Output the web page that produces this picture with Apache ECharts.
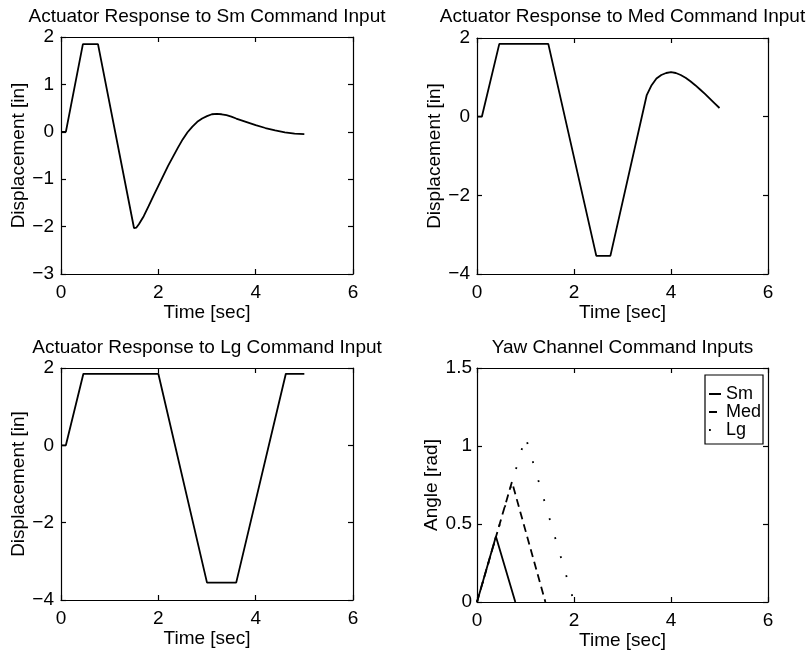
<!DOCTYPE html>
<html>
<head>
<meta charset="utf-8">
<script src="https://cdn.jsdelivr.net/npm/echarts@6/dist/echarts.min.js"></script>
<style>html,body{margin:0;padding:0;background:#fff}#c{width:810px;height:655px}</style>
</head>
<body>
<div id="c"></div>
<script>
// ---- Data ----
const titles = [
  'Actuator Response to Sm Command Input',
  'Actuator Response to Med Command Input',
  'Actuator Response to Lg Command Input',
  'Yaw Channel Command Inputs'
];
const xTicks = [0, 2, 4, 6];
const yTicksSm = [-3, -2, -1, 0, 1, 2];
const yTicksMed = [-4, -2, 0, 2];
const yTicksLg = [-4, -2, 0, 2];
const yTicksYaw = [0, 0.5, 1, 1.5];

const smResponse = [[0,0],[0.1,0],[0.45,1.85],[0.76,1.85],[1.5,-2.03],[1.55,-2.02],[1.6,-1.95],[1.7,-1.78],[1.8,-1.57],[1.9,-1.35],[2.0,-1.14],[2.1,-0.93],[2.2,-0.72],[2.3,-0.53],[2.4,-0.34],[2.5,-0.16],[2.6,-0.01],[2.7,0.11],[2.8,0.21],[2.9,0.28],[3.0,0.33],[3.1,0.37],[3.2,0.38],[3.3,0.37],[3.4,0.35],[3.5,0.32],[3.6,0.28],[3.8,0.21],[4.0,0.14],[4.2,0.08],[4.4,0.03],[4.6,-0.01],[4.8,-0.04],[5.0,-0.05]];
const medResponse = [[0,0],[0.1,0],[0.46,1.85],[1.47,1.85],[2.46,-3.54],[2.75,-3.54],[3.5,0.55],[3.6,0.8],[3.7,0.97],[3.8,1.06],[3.9,1.11],[4.0,1.13],[4.1,1.11],[4.2,1.06],[4.3,0.99],[4.4,0.9],[4.5,0.8],[4.6,0.69],[4.7,0.58],[4.8,0.46],[4.9,0.34],[5.0,0.22]];
const lgResponse = [[0,0],[0.1,0],[0.46,1.85],[2.0,1.85],[3.0,-3.55],[3.6,-3.55],[4.62,1.85],[5.0,1.85]];

const smCommand = [[0,0],[0.39,0.42],[0.79,0]];
const medCommand = [[0,0],[0.72,0.77],[1.41,0]];
const lgCommand = [[0,0],[1.0,1.06],[2.0,0]];
const legendNames = ['Sm', 'Med', 'Lg'];

// ---- Layout ----
const FONT = 'Liberation Sans, Arial, Helvetica, sans-serif';
const grids = [
  {left: 61, top: 37, width: 292, height: 237},
  {left: 477, top: 38, width: 291, height: 236},
  {left: 61, top: 368, width: 292, height: 232},
  {left: 477, top: 368, width: 291, height: 234}
];
const yNames = ['Displacement [in]', 'Displacement [in]', 'Displacement [in]', 'Angle [rad]'];
const yTickSets = [yTicksSm, yTicksMed, yTicksLg, yTicksYaw];
const titleTops = [7, 7, 338, 338];

const fmt = v => (v < 0 ? '\u2212' + Math.abs(v) : String(v));
const axisLine = {show: true, onZero: false, lineStyle: {color: '#000', width: 1.2}};
const tick = {show: true, inside: true, length: 5, lineStyle: {color: '#000', width: 1.2}};

const xAxis = [], yAxis = [], title = [];
grids.forEach((g, i) => {
  const ticks = yTickSets[i];
  const yInt = ticks[1] - ticks[0];
  const xInt = xTicks[1] - xTicks[0];
  title.push({
    text: titles[i], left: g.left + g.width / 2, top: titleTops[i], textAlign: 'center', padding: 0,
    textStyle: {fontFamily: FONT, fontSize: 19, fontWeight: 'normal', color: '#000'}
  });
  xAxis.push({
    type: 'value', gridIndex: i, position: 'bottom', min: xTicks[0], max: xTicks[xTicks.length - 1], interval: xInt,
    name: 'Time [sec]', nameLocation: 'middle', nameGap: 25,
    nameTextStyle: {fontFamily: FONT, fontSize: 19, color: '#000'},
    axisLine, axisTick: tick, splitLine: {show: false},
    axisLabel: {fontFamily: FONT, fontSize: 19, color: '#000', margin: 9, formatter: fmt}
  });
  xAxis.push({
    type: 'value', gridIndex: i, position: 'top', min: xTicks[0], max: xTicks[xTicks.length - 1], interval: xInt,
    axisLine, axisTick: tick, splitLine: {show: false}, axisLabel: {show: false}
  });
  yAxis.push({
    type: 'value', gridIndex: i, position: 'left', min: ticks[0], max: ticks[ticks.length - 1], interval: yInt,
    name: yNames[i], nameLocation: 'middle', nameGap: i === 3 ? 36 : 29,
    nameTextStyle: {fontFamily: FONT, fontSize: 19, color: '#000'},
    axisLine, axisTick: tick, splitLine: {show: false},
    axisLabel: {fontFamily: FONT, fontSize: 19, color: '#000', margin: i === 3 ? 5 : 7, formatter: fmt}
  });
  yAxis.push({
    type: 'value', gridIndex: i, position: 'right', min: ticks[0], max: ticks[ticks.length - 1], interval: yInt,
    axisLine, axisTick: tick, splitLine: {show: false}, axisLabel: {show: false}
  });
});

const lineSeries = (name, data, gi, style) => ({
  name, type: 'line', data, xAxisIndex: gi * 2, yAxisIndex: gi * 2, showSymbol: false, symbol: 'none',
  lineStyle: Object.assign({color: '#000', width: 1.8}, style || {}), itemStyle: {color: '#000'},
  silent: true, animation: false
});

const series = [
  lineSeries('Sm response', smResponse, 0),
  lineSeries('Med response', medResponse, 1),
  lineSeries('Lg response', lgResponse, 2),
  lineSeries(legendNames[0], smCommand, 3),
  lineSeries(legendNames[1], medCommand, 3, {type: [8, 5]}),
  lineSeries(legendNames[2], lgCommand, 3, {type: [1.8, 18]})
];

const chart = echarts.init(document.getElementById('c'), null, {renderer: 'canvas'});
chart.setOption({
  backgroundColor: '#fff',
  animation: false,
  title,
  grid: grids.map(g => Object.assign({containLabel: false}, g)),
  xAxis, yAxis, series,
  legend: {
    data: legendNames, orient: 'vertical', left: 705, top: 375,
    padding: [10, 2, 5, 3], itemGap: 0, itemWidth: 12, itemHeight: 12,
    borderColor: '#000', borderWidth: 1.2, borderRadius: 0, backgroundColor: '#fff',
    selectedMode: false,
    itemStyle: {color: 'rgba(0,0,0,0)', borderWidth: 0, opacity: 0},
    textStyle: {fontFamily: FONT, fontSize: 18, color: '#000', lineHeight: 14}
  }
});
</script>
</body>
</html>
